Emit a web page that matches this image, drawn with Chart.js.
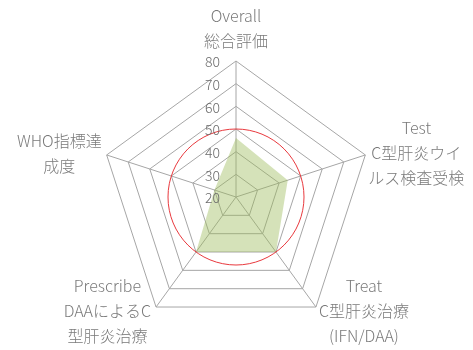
<!DOCTYPE html>
<html>
<head>
<meta charset="utf-8">
<script src="https://cdn.jsdelivr.net/npm/chart.js@4"></script>
<style>
  html, body { margin: 0; padding: 0; background: #fff; }
  #wrap { width: 473px; height: 350px; }
</style>
</head>
<body>
<div id="wrap"><canvas id="radar"></canvas></div>
<script>
// axis labels (multi-line)
const axisLabels = [
    ['Overall', '総合評価'],
    ['Test', 'C型肝炎ウイ', 'ルス検査受検'],
    ['Treat', 'C型肝炎治療', '(IFN/DAA)'],
    ['Prescribe', 'DAAによるC', '型肝炎治療'],
    ['WHO指標達', '成度']
];
const scores = [46, 44, 50, 50, 30];
const tickValues = [20, 30, 40, 50, 60, 70, 80];
const targetValue = 50;

const FONT = '"Noto Sans CJK JP", "Noto Sans", sans-serif';
Chart.defaults.font.family = FONT;

// tick numbers to the left of the top axis, the red target circle, axis labels
const overlayPlugin = {
    id: 'overlay',
    afterDatasetsDraw(chart) {
        const ctx = chart.ctx;
        const scale = chart.scales.r;

        // target circle
        ctx.save();
        ctx.beginPath();
        ctx.arc(scale.xCenter, scale.yCenter, scale.getDistanceFromCenterForValue(targetValue), 0, Math.PI * 2);
        ctx.strokeStyle = '#e8383d';
        ctx.lineWidth = 1;
        ctx.stroke();
        ctx.restore();

        // tick labels
        ctx.save();
        ctx.font = '300 14px ' + FONT;
        ctx.fillStyle = '#6b6b6b';
        ctx.textAlign = 'right';
        ctx.textBaseline = 'middle';
        tickValues.forEach(v => {
            const y = scale.yCenter - scale.getDistanceFromCenterForValue(v);
            ctx.fillText(String(v), scale.xCenter - 16, y + 1);
        });
        ctx.restore();

        // point labels
        ctx.save();
        ctx.font = '300 16px ' + FONT;
        ctx.fillStyle = '#7a7a7a';
        ctx.textBaseline = 'middle';
        ctx.textAlign = 'center';
        const lineH = 25;
        axisLabels.forEach((lines, i) => {
            const p = scale.getPointPositionForValue(i, scale.max);
            const w = Math.max(...lines.map(l => ctx.measureText(l).width));
            const h = lines.length * lineH;
            let cx, top;
            if (Math.abs(p.x - scale.xCenter) < 2) {
                cx = p.x;
                top = p.y - 12 - h + 4;
            } else if (p.x > scale.xCenter) {
                cx = p.x + 3 + w / 2;
                top = p.y + (p.y > scale.yCenter ? 4 : -2) - h / 2;
            } else {
                cx = p.x - 5 - w / 2;
                top = p.y + (p.y > scale.yCenter ? 4 : -2) - h / 2;
            }
            lines.forEach((l, k) => ctx.fillText(l, cx, top + lineH * k + lineH / 2));
        });
        ctx.restore();
    }
};

new Chart(document.getElementById('radar'), {
    type: 'radar',
    data: {
        labels: axisLabels,
        datasets: [{
            data: scores,
            backgroundColor: 'rgba(155, 187, 89, 0.42)',
            borderWidth: 0,
            pointRadius: 0,
            fill: true
        }]
    },
    options: {
        responsive: true,
        maintainAspectRatio: false,
        animation: false,
        layout: { padding: { top: 61, bottom: 17, left: 100, right: 101 } },
        plugins: {
            legend: { display: false },
            tooltip: { enabled: false }
        },
        scales: {
            r: {
                min: 20,
                max: 80,
                ticks: { stepSize: 10, display: false },
                grid: { color: '#a6a6a6', lineWidth: 1 },
                angleLines: { color: '#a6a6a6', lineWidth: 1 },
                pointLabels: { display: false }
            }
        }
    },
    plugins: [overlayPlugin]
});
</script>
</body>
</html>
